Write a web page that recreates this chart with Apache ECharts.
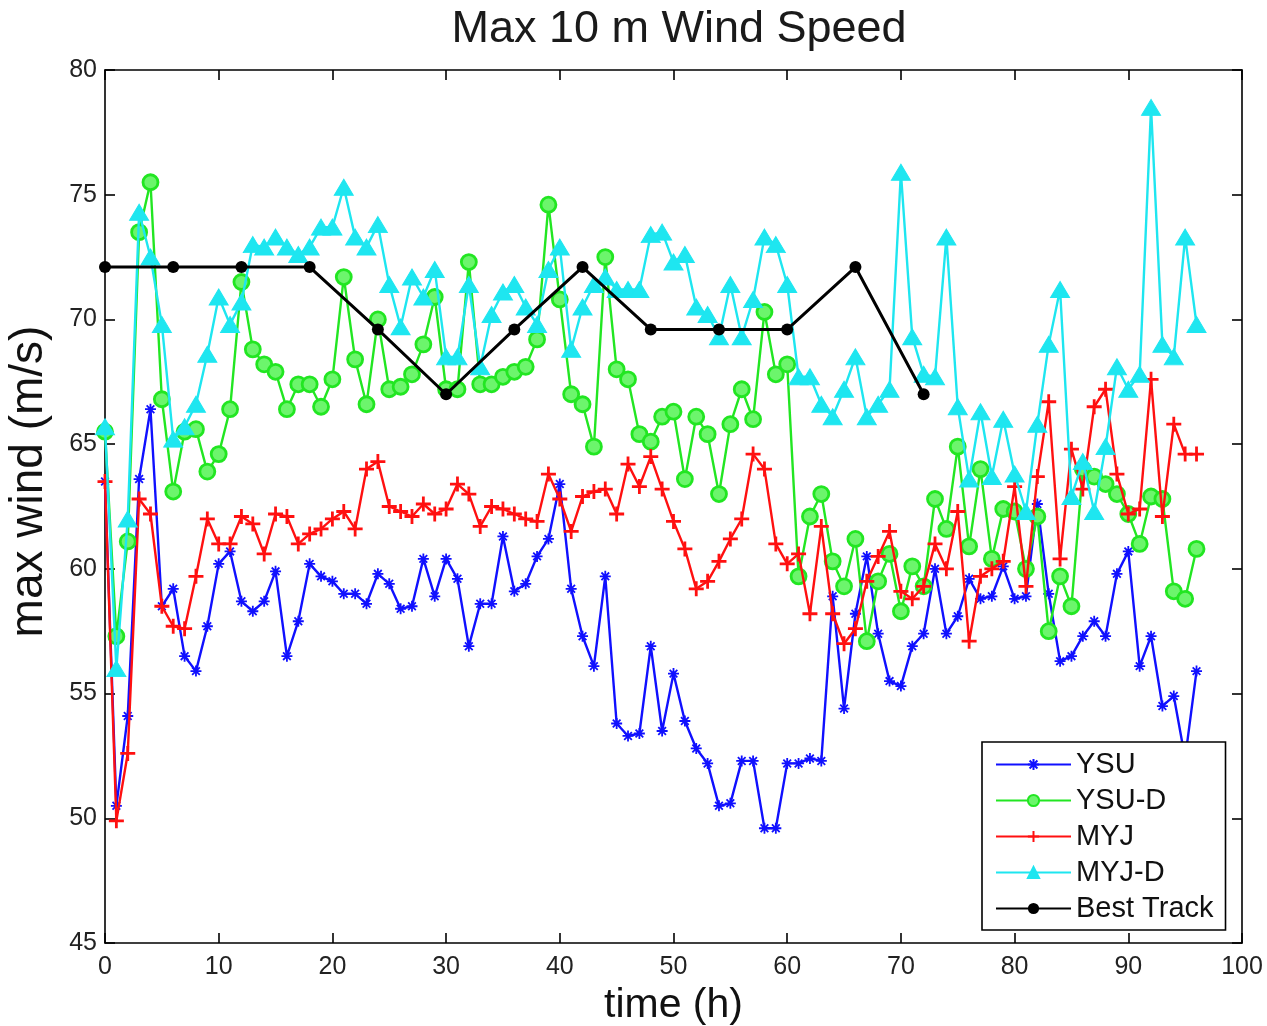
<!DOCTYPE html>
<html>
<head>
<meta charset="utf-8">
<script src="https://cdn.jsdelivr.net/npm/echarts@6/dist/echarts.min.js"></script>
<style>
html,body{margin:0;padding:0;background:#fff;}
#chart{width:1267px;height:1026px;}
</style>
</head>
<body>
<div id="chart"></div>
<script>
// ---- data ----
const hours = [0,1,2,3,4,5,6,7,8,9,10,11,12,13,14,15,16,17,18,19,20,21,22,23,24,25,26,27,28,29,30,31,32,33,34,35,36,37,38,39,40,41,42,43,44,45,46,47,48,49,50,51,52,53,54,55,56,57,58,59,60,61,62,63,64,65,66,67,68,69,70,71,72,73,74,75,76,77,78,79,80,81,82,83,84,85,86,87,88,89,90,91,92,93,94,95,96];

const ysu = [63.5,50.5,54.1,63.6,66.4,58.5,59.2,56.5,55.9,57.7,60.2,60.7,58.7,58.3,58.7,59.9,56.5,57.9,60.2,59.7,59.5,59.0,59.0,58.6,59.8,59.4,58.4,58.5,60.4,58.9,60.4,59.6,56.9,58.6,58.6,61.3,59.1,59.4,60.5,61.2,63.4,59.2,57.3,56.1,59.7,53.8,53.3,53.4,56.9,53.5,55.8,53.9,52.8,52.2,50.5,50.6,52.3,52.3,49.6,49.6,52.2,52.2,52.4,52.3,58.9,54.4,58.2,60.5,57.4,55.5,55.3,56.9,57.4,60.0,57.4,58.1,59.6,58.8,58.9,60.1,58.8,58.9,62.6,59.0,56.3,56.5,57.3,57.9,57.3,59.8,60.7,56.1,57.3,54.5,54.9,52.4,55.9];

const ysuD = [65.5,57.3,61.1,73.5,75.5,66.8,63.1,65.5,65.6,63.9,64.6,66.4,71.5,68.8,68.2,67.9,66.4,67.4,67.4,66.5,67.6,71.7,68.4,66.6,70.0,67.2,67.3,67.8,69.0,70.9,67.2,67.2,72.3,67.4,67.4,67.7,67.9,68.1,69.2,74.6,70.8,67.0,66.6,64.9,72.5,68.0,67.6,65.4,65.1,66.1,66.3,63.6,66.1,65.4,63.0,65.8,67.2,66.0,70.3,67.8,68.2,59.7,62.1,63.0,60.3,59.3,61.2,57.1,59.5,60.6,58.3,60.1,59.3,62.8,61.6,64.9,60.9,64.0,60.4,62.4,62.3,60.0,62.1,57.5,59.7,58.5,64.0,63.7,63.4,63.0,62.2,61.0,62.9,62.8,59.1,58.8,60.8];

const myj = [63.5,49.9,52.6,62.8,62.2,58.5,57.7,57.6,59.7,62.0,61.0,61.0,62.1,61.8,60.6,62.2,62.1,61.0,61.4,61.6,62.0,62.3,61.6,64.0,64.3,62.5,62.3,62.1,62.6,62.2,62.4,63.4,63.0,61.7,62.5,62.4,62.2,62.0,61.9,63.8,62.8,61.5,62.9,63.1,63.2,62.2,64.2,63.3,64.5,63.2,61.9,60.8,59.2,59.5,60.3,61.2,62.0,64.6,64.0,61.0,60.2,60.6,58.2,61.7,58.2,57.0,57.6,59.5,60.5,61.5,59.1,58.8,59.3,61.0,60.0,62.3,57.1,59.7,60.0,60.3,63.3,59.3,63.7,66.7,60.4,64.8,63.2,66.5,67.2,63.8,62.2,62.4,67.6,62.1,65.8,64.6,64.6];

const myjD = [65.7,56.0,62.0,74.3,72.5,69.8,65.2,65.7,66.6,68.6,70.9,69.8,70.7,73.0,72.9,73.3,72.9,72.6,72.9,73.7,73.7,75.3,73.3,72.9,73.8,71.4,69.7,71.7,70.9,72.0,68.5,68.5,71.4,68.1,70.2,71.1,71.4,70.5,69.8,72.0,72.9,68.8,70.5,71.4,71.7,71.2,71.2,71.2,73.4,73.5,72.3,72.6,70.5,70.2,69.3,71.4,69.3,70.8,73.3,73.0,71.4,67.7,67.7,66.6,66.1,67.2,68.5,66.1,66.6,67.2,75.9,69.3,67.8,67.7,73.3,66.5,63.6,66.3,63.7,66.0,63.8,62.3,65.8,69.0,71.2,62.9,64.3,62.3,64.9,68.1,67.2,67.8,78.5,69.0,68.5,73.3,69.8];

const bestHours = [0,6,12,18,24,30,36,42,48,54,60,66,72];
const bestTrack = [72.1,72.1,72.1,72.1,69.6,67.0,69.6,72.1,69.6,69.6,69.6,72.1,67.0];

const xTicks = {min: 0, max: 100, step: 10};
const yTicks = {min: 45, max: 80, step: 5};

// ---- chart ----
function pairs(xs, ys){ return xs.map((x,i)=>[x, ys[i]]); }

const FONT = '"Liberation Sans", Arial, Helvetica, sans-serif';
const AXC = '#000';

const baseAxisLine = {show:true, onZero:false, lineStyle:{color:AXC, width:1.6}};
const tickIn = {show:true, inside:true, length:10, lineStyle:{color:AXC, width:1.6}};

const chart = echarts.init(document.getElementById('chart'), null, {renderer:'canvas'});
chart.setOption({
  backgroundColor:'#fff',
  animation:false,
  title:{
    text:'Max 10 m Wind Speed',
    left:674, top:2, textAlign:'center',
    textStyle:{fontFamily:FONT, fontSize:45, fontWeight:'normal', color:'#1a1a1a'}
  },
  legend:{
    orient:'vertical',
    left:982, top:742,
    padding:[8,12,7,13],
    itemWidth:75, itemHeight:14, itemGap:7,
    backgroundColor:'#fff',
    borderColor:'#000', borderWidth:1.6, borderRadius:0,
    textStyle:{fontFamily:FONT, fontSize:29, color:'#111'},
    data:['YSU','YSU-D','MYJ','MYJ-D','Best Track']
  },
  grid:{left:105, right:25, top:70, bottom:83, containLabel:false, outerBoundsMode:'none'},
  xAxis:[{
    type:'value', min:xTicks.min, max:xTicks.max, interval:xTicks.step,
    position:'bottom',
    name:'time (h)', nameLocation:'middle', nameGap:40,
    nameTextStyle:{fontFamily:FONT, fontSize:41, color:'#111'},
    axisLine:baseAxisLine, axisTick:tickIn,
    axisLabel:{fontFamily:FONT, fontSize:25, color:'#222', margin:12},
    splitLine:{show:false}
  },{
    type:'value', min:xTicks.min, max:xTicks.max, interval:xTicks.step,
    position:'top',
    axisLine:baseAxisLine, axisTick:tickIn,
    axisLabel:{show:false}, splitLine:{show:false}
  }],
  yAxis:[{
    type:'value', min:yTicks.min, max:yTicks.max, interval:yTicks.step,
    position:'left',
    name:'max wind (m/s)', nameLocation:'middle', nameGap:53, nameRotate:90,
    nameTextStyle:{fontFamily:FONT, fontSize:46, color:'#111', padding:[0,0,0,50]},
    axisLine:baseAxisLine, axisTick:tickIn,
    axisLabel:{fontFamily:FONT, fontSize:25, color:'#222', margin:8},
    splitLine:{show:false}
  },{
    type:'value', min:yTicks.min, max:yTicks.max, interval:yTicks.step,
    position:'right',
    axisLine:baseAxisLine, axisTick:tickIn,
    axisLabel:{show:false}, splitLine:{show:false}
  }],
  series:[
    {
      name:'YSU', type:'line', data:pairs(hours, ysu),
      symbol:'path://M5,0L5,10M0,5L10,5M1.5,1.5L8.5,8.5M8.5,1.5L1.5,8.5', symbolSize:11,
      lineStyle:{color:'#1010ff', width:2.4},
      itemStyle:{color:'#1010ff', borderColor:'#1010ff', borderWidth:1.8},
      z:2
    },
    {
      name:'YSU-D', type:'line', data:pairs(hours, ysuD),
      symbol:'circle', symbolSize:15,
      lineStyle:{color:'#22e622', width:2.4},
      itemStyle:{color:'#6cf56c', borderColor:'#22e622', borderWidth:2.8},
      z:3
    },
    {
      name:'MYJ', type:'line', data:pairs(hours, myj),
      symbol:'path://M5,0L5,10M0,5L10,5', symbolSize:15,
      lineStyle:{color:'#ff1010', width:2.4},
      itemStyle:{color:'#ff1010', borderColor:'#ff1010', borderWidth:2.8},
      z:4
    },
    {
      name:'MYJ-D', type:'line', data:pairs(hours, myjD),
      symbol:'triangle', symbolSize:[19,16],
      lineStyle:{color:'#1ee6f0', width:2.4},
      itemStyle:{color:'#1ee6f0', borderColor:'#1ee6f0', borderWidth:1},
      z:5
    },
    {
      name:'Best Track', type:'line', data:pairs(bestHours, bestTrack),
      symbol:'circle', symbolSize:12,
      lineStyle:{color:'#000', width:3},
      itemStyle:{color:'#000'},
      z:6
    }
  ]
});
</script>
</body>
</html>
